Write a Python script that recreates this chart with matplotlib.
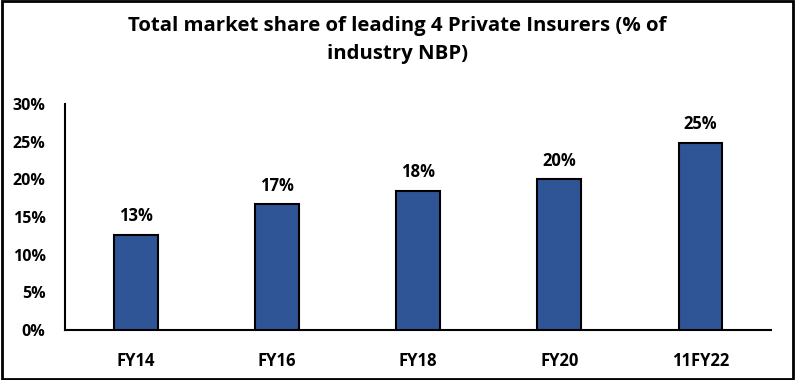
import matplotlib
matplotlib.use("Agg")
import matplotlib.pyplot as plt
from matplotlib.patches import Rectangle

categories = ["FY14", "FY16", "FY18", "FY20", "11FY22"]
values = [12.6, 16.7, 18.45, 20.0, 24.9]
labels = ["13%", "17%", "18%", "20%", "25%"]
yticks = [0, 5, 10, 15, 20, 25, 30]

plt.rcParams['font.family'] = ['Open Sans', 'DejaVu Sans']

fig = plt.figure(figsize=(7.95, 3.8), dpi=100)
ax = fig.add_axes([0.0818, 0.1316, 0.8882, 0.5944])

x = range(len(categories))
ax.bar(x, values, width=0.31, color="#2F5597", edgecolor="black", linewidth=1.5, zorder=3)
for xi, v, l in zip(x, values, labels):
    ax.annotate(l, (xi, v), xytext=(0, 7), textcoords="offset points",
                ha="center", va="bottom", fontsize=12, fontweight="bold")

ax.set_xlim(-0.5, len(categories) - 0.5)
ax.set_ylim(0, 30)
ax.set_yticks(yticks)
ax.set_yticklabels([f"{t}%" for t in yticks], fontsize=11.5, fontweight="bold")
ax.set_xticks(list(x))
ax.set_xticklabels(categories, fontsize=12, fontweight="bold")
ax.tick_params(axis="both", length=0)
ax.tick_params(axis="x", pad=16)
ax.tick_params(axis="y", pad=14)
for s in ["top", "right"]:
    ax.spines[s].set_visible(False)
ax.spines["left"].set_linewidth(1.5)
ax.spines["bottom"].set_linewidth(1.5)

fig.text(0.5, 0.895, "Total market share of leading 4 Private Insurers (% of\nindustry NBP)",
         ha="center", va="center", fontsize=14.7, fontweight="bold", linespacing=1.55)

fig.patches.append(Rectangle((0.002, 0.003), 0.996, 0.994, transform=fig.transFigure,
                             fill=False, edgecolor="black", linewidth=2))

fig.savefig("out.png", dpi=100)
